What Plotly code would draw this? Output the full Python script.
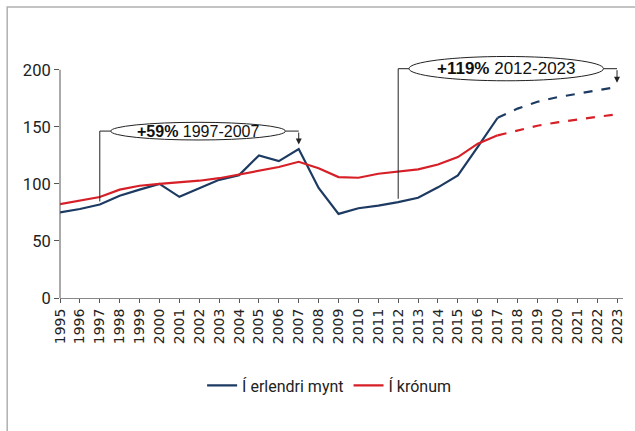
import plotly.graph_objects as go

years = list(range(1995, 2024))
erlendri = [75, 78, 82, 89.6, 95, 100, 88.7, 96, 103.6, 107.7, 125, 120, 130.5,
            96.5, 73.7, 78.7, 81, 84, 87.8, 97, 107.4, 132.4, 158,
            166, 172, 176, 179, 182, 185]
kronum = [82.3, 85.5, 88.5, 95, 98.4, 100, 101.3, 102.8, 105, 108.3, 111, 114.8, 119.4,
          113.8, 106, 105.4, 108.9, 111, 112.7, 117, 123.5, 135.3, 142.6,
          147, 151, 154, 156.7, 158.8, 161]
forecast_start = 2017
series_names = ["Í erlendri mynt", "Í krónum"]
colors = ["#1d3a62", "#d71f27"]
ytick_vals = [0, 50, 100, 150, 200]

idx = years.index(forecast_start)

fig = go.Figure()
for name, vals, col in zip(series_names, [erlendri, kronum], colors):
    fig.add_trace(go.Scatter(x=years[:idx + 1], y=vals[:idx + 1], mode="lines", name=name,
                             line=dict(color=col, width=2.2)))
    fig.add_trace(go.Scatter(x=years[idx:], y=vals[idx:], mode="lines", showlegend=False,
                             line=dict(color=col, width=2.2, dash="dash")))

shapes = []
# frame
shapes.append(dict(type="rect", xref="paper", yref="paper", x0=-0.0938, x1=1.2, y0=-0.8,
                   y1=1.1975, line=dict(color="#b0b0b0", width=1.5), layer="below"))
# y axis line
shapes.append(dict(type="line", xref="paper", yref="y", x0=0, x1=0, y0=0, y1=200,
                   line=dict(color="#555555", width=1)))

brackets = [
    dict(x0=1997, ystart=84.6, ymid=146.3, ex0=1997.55, ex1=2006.33, ey0=138.5, ey1=154,
         x1=2007, ytip=134.5, bold="+59%", rest="1997-2007", size=16),
    dict(x0=2012, ystart=87, ymid=201, ex0=2012.54, ex1=2022.32, ey0=190.4, ey1=211.7,
         x1=2023, ytip=188.7, bold="+119%", rest="2012-2023", size=17),
]
annotations = []
for b in brackets:
    shapes.append(dict(type="path", xref="x", yref="y",
                       path=f"M {b['x0']},{b['ystart']} L {b['x0']},{b['ymid']} L {b['ex0']},{b['ymid']}",
                       line=dict(color="#222222", width=1)))
    shapes.append(dict(type="line", xref="x", yref="y", x0=b['ex1'], x1=b['x1'],
                       y0=b['ymid'], y1=b['ymid'], line=dict(color="#222222", width=1)))
    shapes.append(dict(type="circle", xref="x", yref="y", x0=b['ex0'], x1=b['ex1'],
                       y0=b['ey0'], y1=b['ey1'], fillcolor="white",
                       line=dict(color="#222222", width=1)))
    annotations.append(dict(x=b['x1'], y=b['ytip'], ax=b['x1'], ay=b['ymid'], axref="x",
                            ayref="y", xref="x", yref="y", text="", showarrow=True,
                            arrowhead=2, arrowsize=1.2, arrowwidth=1, arrowcolor="#222222"))
    annotations.append(dict(x=(b['ex0'] + b['ex1']) / 2, y=(b['ey0'] + b['ey1']) / 2,
                            xref="x", yref="y", showarrow=False,
                            text=f"<b>{b['bold']}</b> {b['rest']}",
                            font=dict(family="Liberation Sans, Arial, sans-serif",
                                      size=b['size'], color="#111111")))

fig.update_layout(
    width=635, height=431,
    margin=dict(l=60, r=10, t=55, b=133),
    paper_bgcolor="white", plot_bgcolor="white",
    showlegend=True,
    legend=dict(orientation="h", x=0.478, xanchor="center", y=-0.36, yanchor="middle",
                font=dict(family="Roboto, sans-serif", size=16, color="#222222"),
                itemwidth=30, traceorder="normal"),
    shapes=shapes,
    annotations=annotations,
    xaxis=dict(range=[1995, 2023.3], tickmode="array", tickvals=years,
               ticktext=[str(y) for y in years], tickangle=-90,
               ticks="outside", ticklen=4, tickcolor="#555555",
               showline=True, linecolor="#888888", linewidth=1,
               showgrid=False, zeroline=False,
               tickfont=dict(family="DejaVu Sans, sans-serif", size=14, color="#222222")),
    yaxis=dict(range=[0, 213], tickmode="array", tickvals=ytick_vals,
               ticks="outside", ticklen=5, tickcolor="#555555",
               showline=False, showgrid=False, zeroline=False,
               tickfont=dict(family="Roboto, sans-serif", size=16.5, color="#222222")),
)

fig.write_html("out.html", config={"displayModeBar": False},
               post_script="document.body.style.margin='0';")
